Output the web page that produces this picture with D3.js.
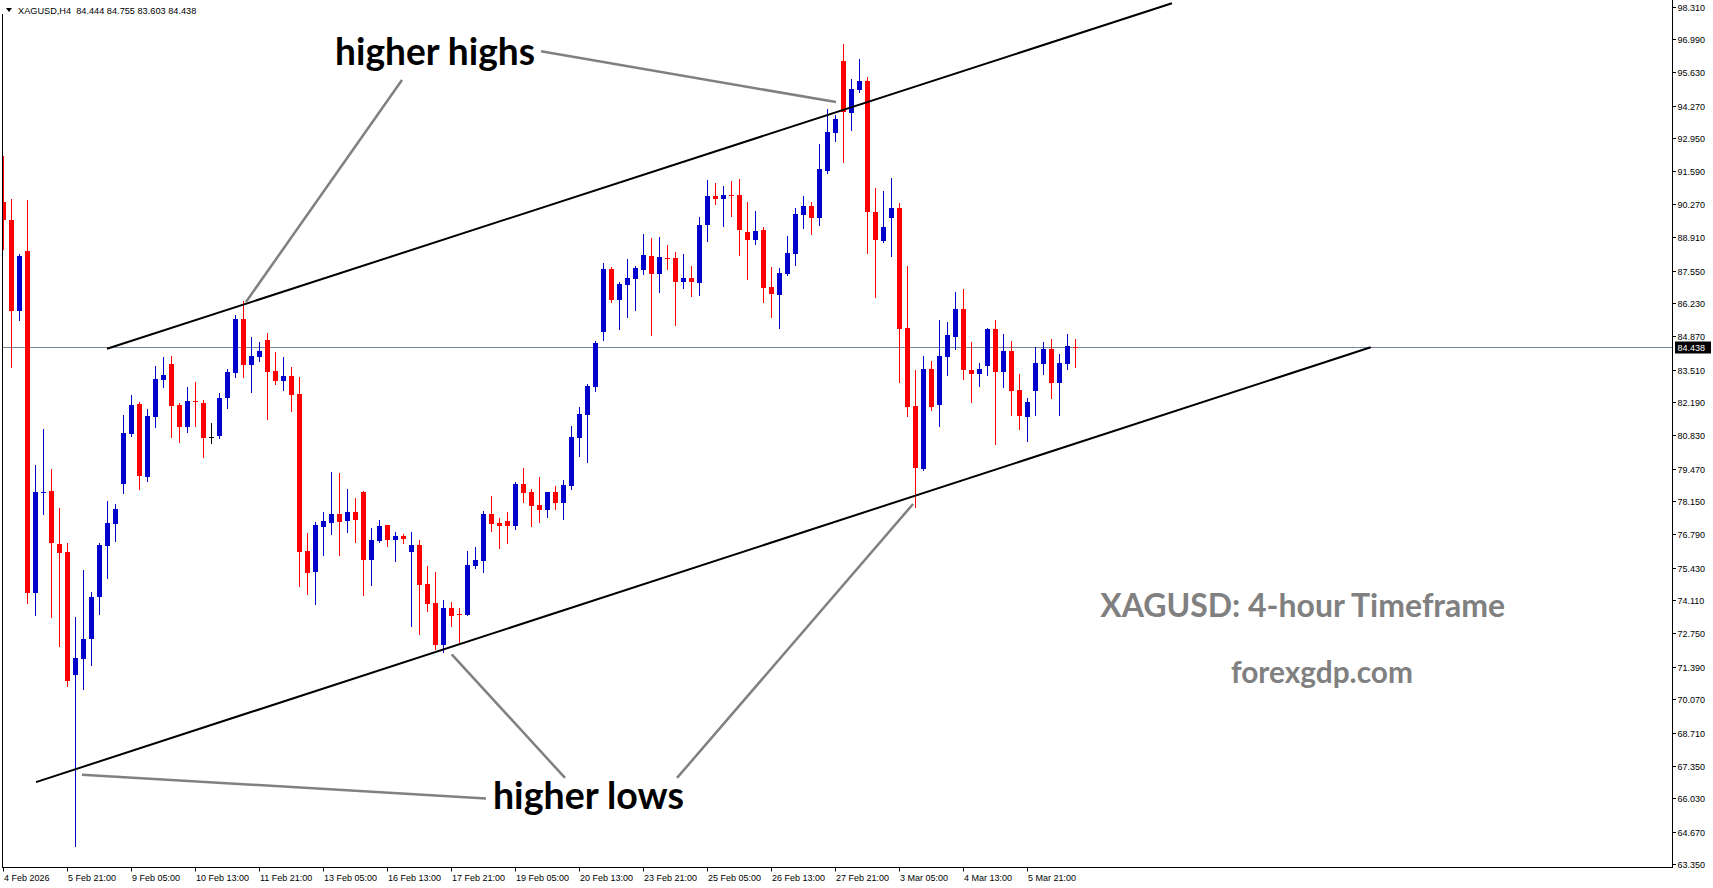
<!DOCTYPE html>
<html><head><meta charset="utf-8">
<script src="https://cdn.jsdelivr.net/npm/d3@7/dist/d3.min.js"></script>
<style>html,body{margin:0;padding:0;background:#fff;overflow:hidden}</style>
</head><body>
<svg id="c" width="1713" height="888"></svg>
<script>
// ---------------- DATA ----------------
const symbol = "XAGUSD,H4";
const lastPrice = 84.438;
const opens = [90.33,89.61,85.91,88.34,74.42,78.50,78.56,76.40,76.07,71.07,
71.73,72.51,74.23,76.33,77.23,78.86,80.90,82.11,79.14,81.59,
83.10,83.74,82.07,81.18,82.22,82.15,80.76,80.80,82.37,83.39,
85.58,83.71,84.03,84.72,83.45,83.06,83.25,82.52,76.12,75.27,
77.11,77.27,77.62,77.35,77.71,78.52,75.76,76.54,77.17,76.58,
76.73,76.09,76.36,74.77,74.01,72.30,73.80,73.56,73.52,75.52,
75.72,77.62,77.26,77.34,77.15,78.85,78.52,77.99,77.80,78.52,
78.09,78.78,80.74,81.67,82.82,85.06,87.61,86.36,86.96,87.21,
87.57,88.14,87.41,88.06,88.06,87.08,87.25,87.04,89.41,90.59,
90.47,90.63,90.63,89.12,88.80,89.20,86.88,86.55,87.41,88.23,
89.83,90.18,89.71,91.62,93.17,96.10,93.99,94.91,95.28,89.94,
88.76,89.71,90.10,85.21,82.03,79.47,83.54,82.08,84.04,84.85,
85.98,83.51,83.35,83.67,85.17,83.43,84.27,82.68,81.59,82.65,
83.75,84.35,82.98,83.75,84.444];
const highs = [92.22,90.47,88.22,90.43,79.62,81.08,79.46,77.87,76.45,73.42,
75.34,74.43,76.45,78.15,78.03,81.66,82.47,82.18,81.91,83.66,
84.02,84.06,82.14,82.80,83.00,82.27,81.34,82.56,83.54,85.74,
86.29,84.84,84.63,85.01,84.22,84.03,83.62,83.21,76.86,77.31,
77.71,79.34,79.30,78.64,78.28,78.56,77.05,77.38,77.19,76.89,
76.81,76.89,76.56,75.52,75.27,74.13,74.05,73.80,76.13,76.29,
77.75,78.36,77.46,77.71,78.93,79.50,78.64,79.13,78.52,78.77,
79.01,81.21,81.99,82.92,84.68,87.86,87.70,87.08,88.02,87.74,
89.04,88.88,88.92,88.59,88.31,88.23,87.74,89.73,91.24,91.12,
91.00,91.20,91.28,90.35,89.98,89.33,87.70,87.65,88.96,90.10,
90.59,90.35,92.71,94.14,93.89,96.79,95.36,96.18,95.44,90.92,
90.79,91.33,90.31,87.74,83.50,84.07,83.86,85.53,85.45,86.68,
86.80,84.64,83.78,85.21,85.53,84.96,84.68,83.33,82.35,84.43,
84.64,84.76,84.15,84.96,84.755];
const lows = [88.42,83.60,85.54,74.01,73.52,77.64,73.43,72.25,70.59,64.10,
70.50,71.48,73.56,75.03,76.53,78.46,80.82,78.66,78.98,81.18,
82.81,80.77,80.57,80.97,81.22,79.93,80.50,80.74,81.96,83.22,
83.22,82.58,83.87,81.51,82.94,82.68,81.84,74.70,74.36,73.97,
75.95,76.82,75.95,76.89,76.48,74.33,74.74,76.48,76.32,75.72,
76.45,73.07,72.74,73.68,72.13,72.01,73.07,72.34,73.50,75.44,
75.27,76.94,76.25,76.45,77.03,78.13,77.15,77.31,77.51,77.84,
77.42,78.66,80.00,79.74,82.65,84.72,86.27,85.18,85.67,85.96,
87.41,84.94,86.69,87.61,85.34,86.84,86.51,86.55,88.76,90.26,
89.37,89.78,88.18,87.21,88.63,86.27,85.66,85.21,87.37,87.78,
89.30,89.04,89.42,91.54,92.85,91.99,93.30,94.85,88.28,86.49,
88.73,88.16,83.02,81.63,77.92,79.43,81.88,81.22,83.30,84.37,
83.14,82.21,82.86,83.30,80.49,82.82,81.67,81.10,80.61,81.67,
83.35,82.37,81.67,83.55,83.603];
const closes = [89.62,85.91,88.14,74.42,78.51,78.53,76.42,76.05,70.81,71.76,
72.53,74.23,76.36,77.26,77.83,80.93,82.07,79.18,81.62,83.13,
83.29,82.04,81.18,82.23,82.19,80.74,80.76,82.36,83.41,85.58,
83.71,84.06,84.27,83.42,83.06,83.25,82.49,76.09,75.23,77.17,
77.34,77.62,77.31,77.71,77.38,75.76,76.56,77.13,76.58,76.73,
76.62,76.36,74.74,73.97,72.30,73.80,73.48,73.53,75.53,75.76,
77.62,77.23,77.15,77.15,78.85,78.49,77.96,77.80,78.52,78.09,
78.81,80.76,81.70,82.84,84.60,87.61,86.36,87.00,87.25,87.65,
88.18,87.41,88.10,88.03,87.08,87.25,87.08,89.41,90.59,90.47,
90.63,90.59,89.20,88.80,89.16,86.84,86.59,87.45,88.27,89.86,
90.18,89.69,91.69,93.20,93.73,94.03,94.95,95.28,89.95,88.81,
89.33,90.10,85.18,82.00,79.51,83.54,82.00,84.07,84.92,85.98,
83.51,83.35,83.55,85.17,83.43,84.27,82.65,81.63,82.19,83.78,
84.35,82.98,83.78,84.47,84.438];
const priceTicks = ["98.310","96.990","95.630","94.270","92.950","91.590","90.270","88.910","87.550","86.230","84.870","83.510","82.190","80.830","79.470","78.150","76.790","75.430","74.110","72.750","71.390","70.070","68.710","67.350","66.030","64.670","63.350"];
const timeLabels = ["4 Feb 2026","5 Feb 21:00","9 Feb 05:00","10 Feb 13:00","11 Feb 21:00","13 Feb 05:00","16 Feb 13:00","17 Feb 21:00","19 Feb 05:00","20 Feb 13:00","23 Feb 21:00","25 Feb 05:00","26 Feb 13:00","27 Feb 21:00","3 Mar 05:00","4 Mar 13:00","5 Mar 21:00"];
const timeLabelStep = 8; // candles between time labels
// trend lines in (candle index, price)
const upperTrend = [[12.94, 84.36], [146.06, 98.45]];
const lowerTrend = [[4.06, 66.69], [170.9, 84.42]];
// annotation pointer lines in (candle index, price)
const pointerLines = [
  [[67.19, 96.49], [104.06, 94.42]],
  [[49.81, 95.32], [30.31, 86.27]],
  [[60.31, 66.02], [9.81, 66.99]],
  [[70.19, 66.86], [56.03, 71.90]],
  [[84.19, 66.86], [113.69, 78.03]]
];
const notes = [
  {text: "higher highs", k: 53.94, p: 96.53},
  {text: "higher lows", k: 73.12, p: 66.19},
  {text: "XAGUSD: 4-hour Timeframe", k: 162.4, p: 73.97},
  {text: "forexgdp.com", k: 164.8, p: 71.24}
];
const noteStyle = [
  {size: 38, fill: "#000", w: 200},
  {size: 38, fill: "#000", w: 191},
  {size: 33, fill: "#808080", w: 405},
  {size: 30, fill: "#808080", w: 182}
];

// ---------------- CHART ----------------
const W = 1713, H = 888;
const plotL = 2, plotR = 1672, plotT = 0, plotB = 867.5;
const svg = d3.select("#c");
svg.append("rect").attr("width", W).attr("height", H).attr("fill", "#fff");

const n = opens.length;
const x = d3.scaleLinear().domain([0, n - 1]).range([3.5, 3.5 + 8 * (n - 1)]);
const y = d3.scaleLinear().domain([63.35, 98.31]).range([864, 6.7]);

svg.append("defs").append("clipPath").attr("id", "plot")
  .append("rect").attr("x", plotL).attr("y", plotT).attr("width", plotR - plotL).attr("height", plotB - plotT);

const g = svg.append("g").attr("clip-path", "url(#plot)");

// current price line
g.append("line").attr("x1", plotL).attr("x2", plotR)
  .attr("y1", Math.round(y(lastPrice)) + 0.5).attr("y2", Math.round(y(lastPrice)) + 0.5)
  .attr("stroke", "#778899").attr("stroke-width", 1);

// candles
const data = d3.range(n).map(i => ({i, o: opens[i], h: highs[i], l: lows[i], c: closes[i]}));
const col = d => d.c > d.o ? "#0000CD" : (d.c < d.o ? "#FF0000" : "#000");
const cg = g.append("g");
cg.selectAll("line.w").data(data).enter().append("line")
  .attr("x1", d => x(d.i)).attr("x2", d => x(d.i))
  .attr("y1", d => Math.round(y(d.h))).attr("y2", d => Math.round(y(d.l)) + 1)
  .attr("stroke", col).attr("stroke-width", 1);
cg.selectAll("rect.b").data(data).enter().append("rect")
  .attr("x", d => x(d.i) - 2.5)
  .attr("width", 5)
  .attr("y", d => Math.round(y(Math.max(d.o, d.c))))
  .attr("height", d => Math.max(1, Math.round(y(Math.min(d.o, d.c))) - Math.round(y(Math.max(d.o, d.c)))))
  .attr("fill", col);

// trend lines
const line = d3.line().x(d => x(d[0])).y(d => y(d[1]));
[upperTrend, lowerTrend].forEach(t => {
  g.append("path").attr("d", line(t)).attr("stroke", "#000").attr("stroke-width", 2).attr("fill", "none");
});
// pointer lines
pointerLines.forEach(t => {
  g.append("path").attr("d", line(t)).attr("stroke", "#808080").attr("stroke-width", 2.5).attr("fill", "none");
});
// notes
notes.forEach((d, i) => {
  const s = noteStyle[i];
  g.append("text").attr("x", x(d.k)).attr("y", y(d.p))
    .attr("text-anchor", "middle").attr("dominant-baseline", "central")
    .attr("font-family", "Lato, 'Open Sans', sans-serif").attr("font-weight", "bold")
    .attr("font-size", s.size).attr("fill", s.fill)
    .attr("textLength", s.w).attr("lengthAdjust", "spacingAndGlyphs")
    .text(d.text);
});

// frame
svg.append("line").attr("x1", plotL + 0.5).attr("x2", plotL + 0.5).attr("y1", 14).attr("y2", plotB).attr("stroke", "#000");
svg.append("line").attr("x1", plotL).attr("x2", plotR + 1).attr("y1", plotB).attr("y2", plotB).attr("stroke", "#000");
svg.append("line").attr("x1", plotR + 0.5).attr("x2", plotR + 0.5).attr("y1", 0).attr("y2", plotB).attr("stroke", "#000");

// right price axis
const pa = svg.append("g").attr("font-family", "'Liberation Sans', Arial, sans-serif").attr("font-size", 9);
priceTicks.forEach(t => {
  const v = +t, yy = Math.round(y(v)) + 0.5;
  pa.append("line").attr("x1", plotR).attr("x2", plotR + 4).attr("y1", yy).attr("y2", yy).attr("stroke", "#000");
  pa.append("text").attr("x", plotR + 5.5).attr("y", yy).attr("dominant-baseline", "central").attr("fill", "#000").text(t);
});
// last price box
const ly = y(lastPrice);
pa.append("rect").attr("x", plotR + 3).attr("y", Math.round(ly) - 5.5).attr("width", 36).attr("height", 12).attr("fill", "#000");
pa.append("text").attr("x", plotR + 5.5).attr("y", Math.round(ly) + 0.5).attr("dominant-baseline", "central").attr("fill", "#fff").text(lastPrice.toFixed(3));

// bottom time axis
const ta = svg.append("g").attr("font-family", "'Liberation Sans', Arial, sans-serif").attr("font-size", 9);
timeLabels.forEach((t, j) => {
  const xx = x(j * timeLabelStep);
  ta.append("line").attr("x1", xx).attr("x2", xx).attr("y1", plotB).attr("y2", plotB + 4).attr("stroke", "#000");
  ta.append("text").attr("x", xx + 0.5).attr("y", 878).attr("dominant-baseline", "central").attr("fill", "#000").text(t);
});

// header
const hd = svg.append("g").attr("font-family", "'Liberation Sans', Arial, sans-serif").attr("font-size", 9.2);
hd.append("path").attr("d", "M6,8 L12,8 L9,12 Z").attr("fill", "#000");
hd.append("text").attr("x", 18).attr("y", 11).attr("dominant-baseline", "central").attr("fill", "#000")
  .attr("xml:space", "preserve")
  .text(symbol + "  " + [opens[n-1], highs[n-1], lows[n-1], closes[n-1]].map(v => v.toFixed(3)).join(" "));
</script>
</body></html>
